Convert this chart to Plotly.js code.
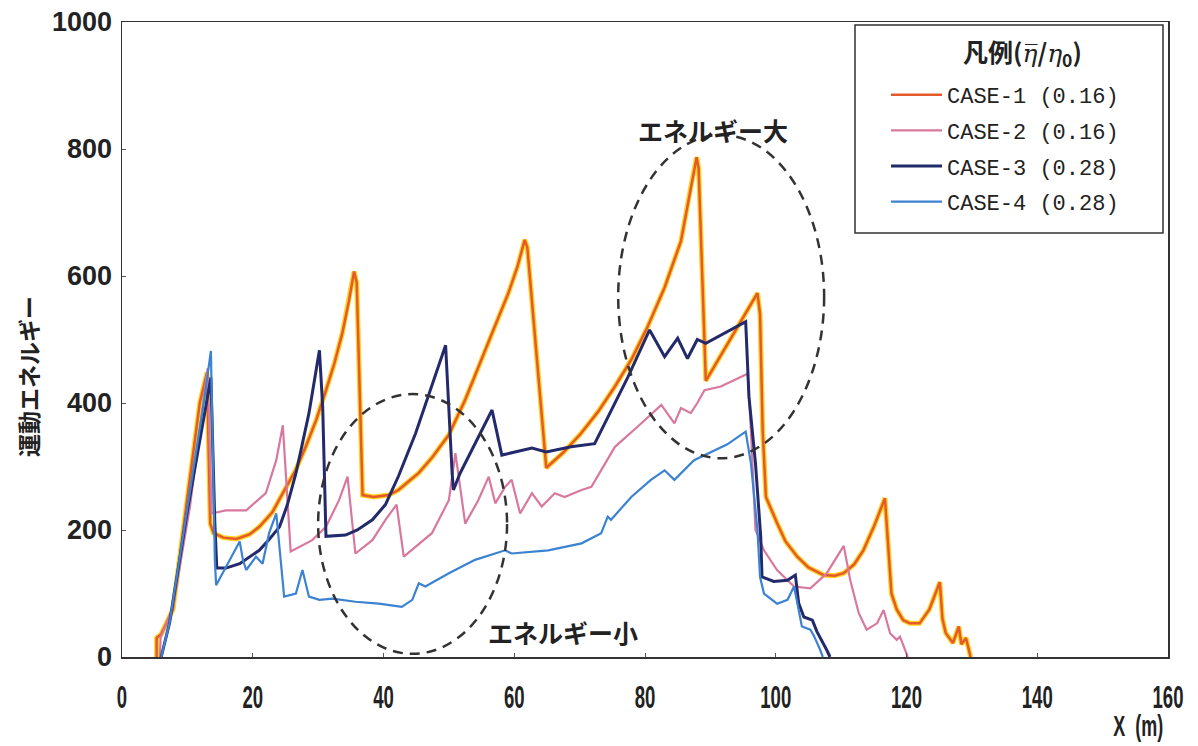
<!DOCTYPE html>
<html>
<head>
<meta charset="utf-8">
<script src="https://cdn.plot.ly/plotly-3.0.1.min.js"></script>
<style>
  html, body { margin: 0; padding: 0; background: #fff; }
  #chart { width: 1198px; height: 746px; }
</style>
</head>
<body>
<div id="chart"></div>
<script>
// ---- data ----
const case1X = [5.3, 5.3, 6.0, 7.8, 9.8, 11.9, 13.0, 13.5, 14.0, 15.5, 17.5, 19.5, 21.0, 23.0, 24.6, 26.5, 28.1, 29.7, 31.2, 32.5, 33.7, 34.7, 35.5, 35.9, 36.8, 38.5, 40.8, 42.3, 44.0, 45.4, 47.5, 50.0, 52.5, 55.0, 57.0, 59.1, 60.5, 61.6, 62.0, 64.9, 67.5, 70.2, 72.8, 75.4, 78.0, 80.4, 83.0, 85.5, 87.0, 87.9, 88.2, 89.3, 97.2, 97.6, 98.0, 98.5, 100.2, 101.5, 103.3, 105.0, 107.3, 109.0, 110.4, 112.0, 113.4, 115.0, 116.7, 117.3, 117.7, 118.5, 119.5, 120.5, 122.0, 123.5, 125.1, 125.5, 126.0, 127.1, 128.0, 128.4, 129.1, 129.8];
const case1Y = [0, 30, 36, 75, 235, 400, 448, 210, 195, 188, 186, 193, 205, 228, 258, 293, 331, 373, 420, 463, 510, 560, 607, 590, 255, 252, 255, 263, 278, 290, 315, 350, 405, 470, 520, 573, 615, 657, 645, 298, 322, 352, 386, 426, 470, 520, 582, 655, 740, 787, 770, 435, 573, 540, 357, 252, 211, 182, 158, 141, 129, 128, 132, 146, 168, 205, 250, 150, 100, 75, 58, 53, 53, 75, 118, 60, 38, 22, 48, 20, 30, 0];

const case2X = [5.8, 5.9, 7.8, 10.4, 13.1, 13.7, 15.9, 19.0, 22.0, 23.6, 24.6, 25.8, 29.1, 31.2, 33.2, 34.5, 35.7, 38.3, 40.3, 42.0, 43.1, 47.4, 50.0, 51.0, 52.5, 54.5, 56.1, 57.1, 58.6, 59.6, 60.9, 62.7, 64.2, 66.2, 67.7, 70.3, 71.8, 75.4, 78.9, 82.5, 84.5, 85.5, 87.0, 88.0, 89.1, 91.6, 95.7, 96.2, 96.9, 98.2, 100.2, 102.8, 105.3, 107.8, 110.4, 111.4, 112.7, 113.9, 115.5, 116.5, 117.5, 118.5, 119.0, 119.8, 120.2];
const case2Y = [0, 30, 79, 237, 455, 226, 231, 231, 258, 310, 365, 166, 184, 205, 247, 284, 163, 184, 216, 240, 158, 195, 247, 321, 210, 247, 284, 242, 268, 279, 226, 258, 237, 258, 252, 263, 268, 331, 363, 397, 368, 392, 384, 400, 420, 426, 446, 357, 200, 168, 137, 111, 108, 132, 175, 121, 69, 43, 53, 74, 37, 27, 32, 11, 0];

const case3X = [6.0, 7.3, 10.0, 12.5, 13.6, 14.2, 14.5, 15.9, 18.0, 21.0, 22.5, 24.1, 25.3, 26.6, 28.6, 30.2, 30.7, 31.2, 34.2, 36.0, 38.3, 40.3, 42.3, 44.9, 47.4, 49.5, 50.5, 50.7, 51.7, 54.5, 56.6, 58.1, 62.7, 64.9, 68.7, 72.3, 77.4, 80.7, 83.0, 85.0, 86.5, 88.0, 89.3, 95.4, 95.9, 96.9, 97.7, 97.9, 99.7, 101.8, 103.0, 103.5, 104.3, 105.6, 106.3, 107.8, 108.3];
const case3Y = [0, 55, 230, 380, 440, 211, 140, 140, 147, 168, 185, 205, 240, 289, 384, 483, 394, 190, 192, 200, 216, 240, 285, 352, 426, 491, 289, 263, 289, 347, 389, 318, 329, 323, 331, 336, 441, 515, 473, 502, 470, 500, 494, 528, 410, 305, 190, 126, 119, 121, 129, 85, 63, 58, 40, 11, 0];

const case4X = [6.0, 7.3, 10.0, 12.5, 13.6, 14.2, 14.4, 15.4, 16.45, 18.0, 18.5, 19.0, 20.5, 21.5, 22.5, 23.6, 24.8, 26.6, 27.6, 28.6, 30.2, 32.2, 35.7, 39.3, 42.8, 44.4, 45.4, 46.4, 50.0, 54.0, 58.6, 59.6, 65.2, 70.3, 73.3, 74.3, 74.8, 77.9, 80.9, 83.0, 84.5, 87.5, 92.6, 95.4, 96.2, 97.2, 97.6, 98.2, 100.2, 101.8, 102.8, 104.0, 105.3, 105.9, 106.8, 107.2];
const case4Y = [0, 55, 235, 400, 482, 153, 113, 132, 153, 182, 153, 137, 158, 147, 195, 226, 95, 100, 137, 95, 90, 92, 87, 84, 79, 90, 116, 111, 132, 153, 168, 163, 168, 179, 195, 221, 216, 252, 279, 294, 279, 310, 335, 355, 305, 200, 126, 100, 84, 90, 111, 48, 43, 32, 11, 0];

const seriesNames = ['CASE-1 (0.16)', 'CASE-2 (0.16)', 'CASE-3 (0.28)', 'CASE-4 (0.28)'];
const xTicks = [0, 20, 40, 60, 80, 100, 120, 140, 160];
const yTicks = [0, 200, 400, 600, 800, 1000];

// ---- layout geometry (pixels) ----
const W = 1198, H = 746;
const M = {l: 122, r: 30, t: 22, b: 89};
const PW = W - M.l - M.r, PH = H - M.t - M.b;
const px2paperX = p => (p - M.l) / PW;
const px2paperY = p => (H - M.b - p) / PH;

const cjkBold = size => ({family: 'Noto Sans CJK JP', size: size, color: '#222', weight: 'bold'});

const traces = [
  {x: case1X, y: case1Y, mode: 'lines', name: seriesNames[0], legendgroup: 'g1', showlegend: false, hoverinfo: 'skip',
   line: {color: '#FFD21F', width: 5}},
  {x: case1X, y: case1Y, mode: 'lines', name: seriesNames[0], legendgroup: 'g1',
   line: {color: '#E55A2B', width: 2.5}},
  {x: case2X, y: case2Y, mode: 'lines', name: seriesNames[1], legendgroup: 'g2',
   line: {color: '#D9789E', width: 2.2}},
  {x: case3X, y: case3Y, mode: 'lines', name: seriesNames[2], legendgroup: 'g3',
   line: {color: '#232A6B', width: 3}},
  {x: case4X, y: case4Y, mode: 'lines', name: seriesNames[3], legendgroup: 'g4',
   line: {color: '#3C82D2', width: 2.2}}
];

const etaSpan = '<span style="font-family:DejaVu Serif;font-weight:normal;font-style:italic">';
const legendTitle = '凡例(' + etaSpan + 'η̅</span>/' + etaSpan + 'η</span><sub>0</sub>)';

const layout = {
  width: W, height: H,
  margin: M,
  paper_bgcolor: '#fff', plot_bgcolor: '#fff',
  showlegend: true,
  xaxis: {
    range: [0, 160], tickvals: xTicks, ticktext: xTicks.map(String),
    showgrid: false, zeroline: false,
    showline: true, mirror: true, linecolor: '#333', linewidth: 1.5,
    ticks: 'inside', ticklen: 4, tickcolor: '#555',
    ticklabelstandoff: 11,
    tickfont: {family: 'Liberation Sans, Arial', size: 32, color: '#222', weight: 'bold'}
  },
  yaxis: {
    range: [0, 1000], tickvals: yTicks, ticktext: yTicks.map(String),
    showgrid: false, zeroline: false,
    showline: true, mirror: true, linecolor: '#333', linewidth: 1.5,
    ticks: 'inside', ticklen: 4, tickcolor: '#555',
    ticklabelstandoff: 3,
    tickfont: {family: 'Liberation Sans, Arial', size: 27, color: '#222', weight: 'bold'}
  },
  legend: {
    x: px2paperX(886), y: px2paperY(74), xanchor: 'left', yanchor: 'top',
    bgcolor: 'rgba(0,0,0,0)', borderwidth: 0,
    font: {family: 'Liberation Mono, DejaVu Sans Mono, monospace', size: 22, color: '#222'},
    itemwidth: 51,
    tracegroupgap: 4
  },
  shapes: [
    // legend frame
    {type: 'rect', xref: 'paper', yref: 'paper',
     x0: px2paperX(855), x1: px2paperX(1163), y0: px2paperY(233), y1: px2paperY(25),
     line: {color: '#333', width: 1.5}, fillcolor: '#fff', layer: 'below'},
    // dashed ellipses
    {type: 'circle', xref: 'x', yref: 'y', x0: 75.9, x1: 107.4, y0: 313, y1: 822,
     line: {color: '#333', width: 2.5, dash: '10px,7px'}},
    {type: 'circle', xref: 'x', yref: 'y', x0: 30.0, x1: 58.9, y0: 5, y1: 414,
     line: {color: '#333', width: 2.5, dash: '10px,7px'}}
  ],
  annotations: [
    {text: '運動エネルギー', xref: 'paper', yref: 'paper', x: px2paperX(28), y: px2paperY(377),
     xanchor: 'center', yanchor: 'middle', textangle: -90, showarrow: false, font: cjkBold(23)},
    {text: legendTitle, xref: 'paper', yref: 'paper',
     x: px2paperX(1022), y: px2paperY(52), xanchor: 'center', yanchor: 'middle', showarrow: false,
     font: cjkBold(25)},
    {text: 'エネルギー大', xref: 'x', yref: 'y', x: 90.4, y: 830, showarrow: false, font: cjkBold(25)},
    {text: 'エネルギー小', xref: 'x', yref: 'y', x: 67.5, y: 39, showarrow: false, font: cjkBold(25)},
    {text: 'X  (m)', xref: 'paper', yref: 'paper', x: px2paperX(1138), y: px2paperY(726),
     xanchor: 'center', yanchor: 'middle', showarrow: false,
     font: {family: 'Liberation Sans, Arial', size: 29, color: '#222', weight: 'bold'}}
  ]
};

// narrow the tall condensed-looking x labels (the reference uses a narrow face)
function condense(el, sx) {
  const x = parseFloat(el.getAttribute('x') || 0);
  const y = parseFloat(el.getAttribute('y') || 0);
  const t = el.getAttribute('transform') || '';
  el.setAttribute('transform', `${t} translate(${x},${y}) scale(${sx},1) translate(${-x},${-y})`);
}

Plotly.newPlot('chart', traces, layout, {displayModeBar: false, staticPlot: true}).then(gd => {
  gd.querySelectorAll('.xtick text').forEach(el => condense(el, 0.58));
  gd.querySelectorAll('.annotation-text').forEach(el => {
    if (el.textContent.trim().startsWith('X')) condense(el, 0.62);
  });
});
</script>
</body>
</html>
